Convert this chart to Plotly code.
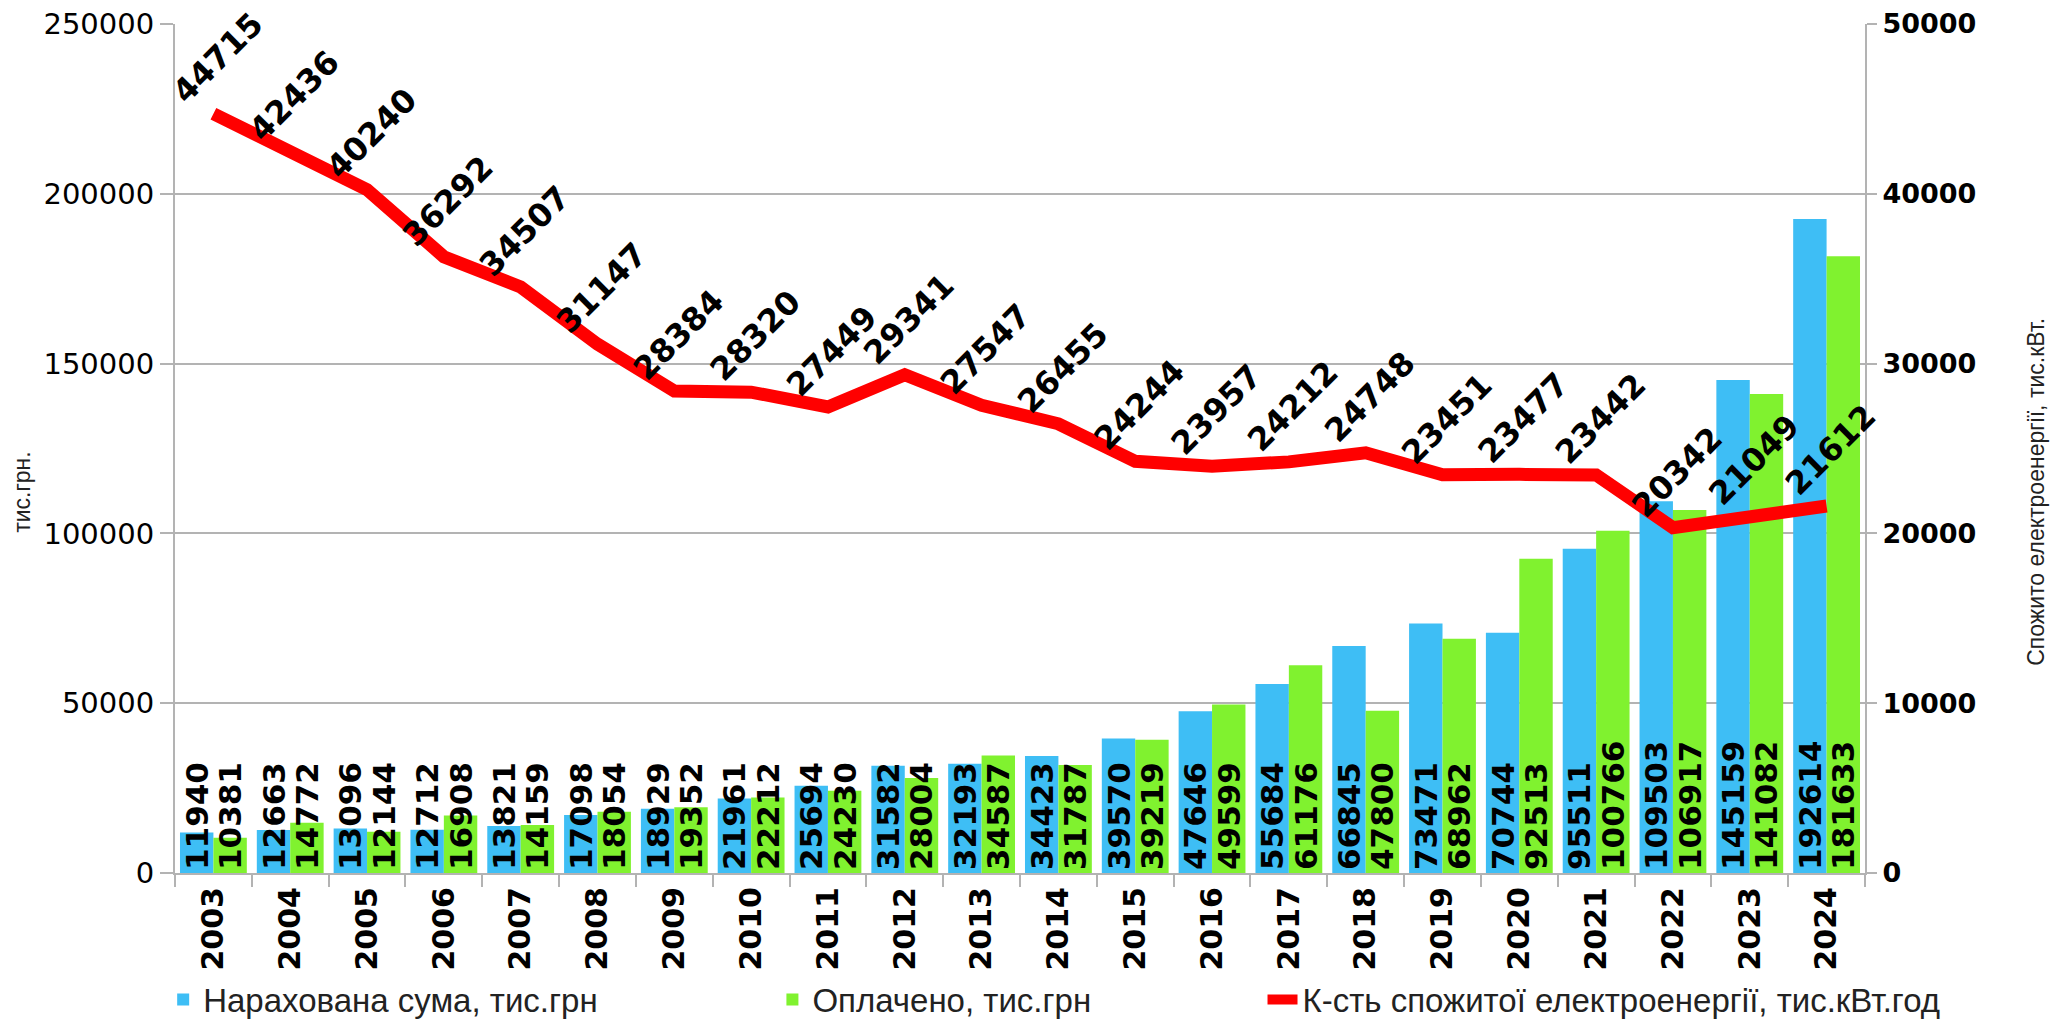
import plotly.graph_objects as go

years = [str(y) for y in range(2003, 2025)]
accrued = [11940, 12663, 13096, 12712, 13821, 17098, 18929, 21961, 25694, 31582, 32193,
           34423, 39570, 47646, 55684, 66845, 73471, 70744, 95511, 109503, 145159, 192614]
paid = [10381, 14772, 12144, 16908, 14159, 18054, 19352, 22212, 24230, 28004, 34587,
        31787, 39219, 49599, 61176, 47800, 68962, 92513, 100766, 106917, 141082, 181633]
energy = [44715, 42436, 40240, 36292, 34507, 31147, 28384, 28320, 27449, 29341, 27547,
          26455, 24244, 23957, 24212, 24748, 23451, 23477, 23442, 20342, 21049, 21612]

name_accrued = "Нарахована сума, тис.грн"
name_paid = "Оплачено, тис.грн"
name_energy = "К-сть спожитої електроенергії, тис.кВт.год"
left_title = "тис.грн."
right_title = "Спожито електроенергії, тис.кВт."

BLUE = "#3ebef5"
GREEN = "#80f22f"
RED = "#ff0000"
GRID = "#b3b3b3"
DIGITS = "DejaVu Sans"
TEXTF = "Liberation Sans, Arial, sans-serif"

fig = go.Figure()

bar_common = dict(
    textposition="inside", insidetextanchor="start", textangle=-90,
    constraintext="none",
    insidetextfont=dict(family=DIGITS, size=31, color="black", weight="bold"),
    outsidetextfont=dict(family=DIGITS, size=31, color="black", weight="bold"),
    marker_line_width=0, hoverinfo="x+y",
)
fig.add_trace(go.Bar(x=years, y=accrued, name=name_accrued, marker_color=BLUE,
                     text=[str(v) for v in accrued], legend="legend", **bar_common))
fig.add_trace(go.Bar(x=years, y=paid, name=name_paid, marker_color=GREEN,
                     text=[str(v) for v in paid], legend="legend2", **bar_common))
fig.add_trace(go.Scatter(x=years, y=energy, name=name_energy, mode="lines",
                         line=dict(color=RED, width=13), yaxis="y2", legend="legend3"))

for i, v in enumerate(energy):
    fig.add_annotation(x=i, y=v, yref="y2", xref="x", text=str(v), showarrow=False,
                       textangle=-45, yshift=56, xshift=4,
                       font=dict(family=DIGITS, size=32, color="black", weight="bold"))

# axis titles
fig.add_annotation(x=-0.0905, y=0.449, xref="paper", yref="paper", text=left_title,
                   showarrow=False, textangle=-90, xanchor="center", yanchor="middle",
                   font=dict(family=TEXTF, size=23, color="#222222"))
fig.add_annotation(x=1.1012, y=0.449, xref="paper", yref="paper", text=right_title,
                   showarrow=False, textangle=-90, xanchor="center", yanchor="middle",
                   font=dict(family=TEXTF, size=23, color="#222222"))

legend_common = dict(orientation="h", yanchor="middle", y=-0.149, xanchor="left",
                     font=dict(family=TEXTF, size=33, color="#222222"),
                     bgcolor="rgba(0,0,0,0)")

# page body has an 8px margin: figure is drawn from (8, 8)
fig.update_layout(
    width=2050, height=1015,
    margin=dict(l=167, r=193, t=16, b=150, autoexpand=False),
    paper_bgcolor="white", plot_bgcolor="white",
    barmode="group", bargap=0.13, bargroupgap=0,
    showlegend=True,
    legend=dict(x=-0.0070, **legend_common),
    legend2=dict(x=0.3535, **legend_common),
    legend3=dict(x=0.6435, **legend_common),
    xaxis=dict(type="category", range=[-0.5, len(years) - 0.5], automargin=False,
               tickson="boundaries", ticks="outside", ticklen=12,
               tickcolor=GRID, tickwidth=2, showline=True, linecolor=GRID, linewidth=2,
               tickangle=-90, showgrid=False, ticklabeloverflow="allow",
               tickfont=dict(family=DIGITS, size=30, color="black", weight="bold")),
    yaxis=dict(range=[0, 250000], dtick=50000, showgrid=True, gridcolor=GRID, gridwidth=1.5,
               zeroline=False, showline=True, linecolor=GRID, linewidth=2, automargin=False,
               ticks="outside", ticklen=13, tickcolor=GRID, tickwidth=2,
               tickformat="d", ticklabeloverflow="allow",
               tickfont=dict(family=DIGITS, size=29, color="black")),
    yaxis2=dict(range=[0, 50000], dtick=10000, overlaying="y", side="right", automargin=False,
                showgrid=False, zeroline=False, showline=True, linecolor=GRID, linewidth=2,
                ticks="outside", ticklen=10, tickcolor=GRID, tickwidth=2,
                tickformat="d", ticklabeloverflow="allow",
                tickfont=dict(family=DIGITS, size=27, color="black", weight="bold")),
)

fig.write_html("out.html")
